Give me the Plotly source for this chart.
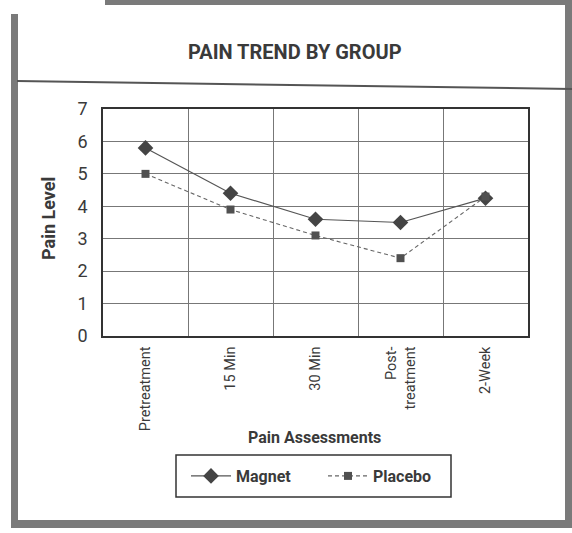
import plotly.graph_objects as go

categories = ["Pretreatment", "15 Min", "30 Min", "Post-<br>treatment", "2-Week"]
magnet = [5.8, 4.4, 3.6, 3.5, 4.25]
placebo = [5.0, 3.9, 3.1, 2.4, 4.3]
y_ticks = [0, 1, 2, 3, 4, 5, 6, 7]

W, H = 572, 533
L, R, T, B = 103, 528, 109, 336

def px(x):
    return (x - L) / (R - L)

def py(y):
    return (B - y) / (B - T)

FONT = "Roboto, Liberation Sans, sans-serif"
INK = "#3a3a3a"
FRAME = "#7a7a7a"

fig = go.Figure()
fig.add_trace(go.Scatter(
    x=categories, y=magnet, name="Magnet", mode="lines+markers",
    line=dict(color="#555555", width=1.2),
    marker=dict(symbol="diamond", size=12, color="#444444"),
))
fig.add_trace(go.Scatter(
    x=categories, y=placebo, name="Placebo", mode="lines+markers",
    line=dict(color="#666666", width=1.1, dash="4px,3px"),
    marker=dict(symbol="square", size=8, color="#505050"),
))

shapes = []
def rect(x0, y0, x1, y1, color=FRAME):
    shapes.append(dict(type="rect", xref="paper", yref="paper",
                       x0=px(x0), x1=px(x1), y0=py(y0), y1=py(y1),
                       line=dict(width=0), fillcolor=color, layer="below"))

# frame bars
rect(11, 14, 18, 528)          # left thick bar
rect(11, 520, 572, 528)        # bottom bar
rect(565, 0, 572, 528)         # right bar
rect(105, 0, 572, 5)           # top bar
shapes.append(dict(type="line", xref="paper", yref="paper",
                   x0=px(17), y0=py(81), x1=px(572), y1=py(89),
                   line=dict(color="#555555", width=2)))
# legend box
shapes.append(dict(type="rect", xref="paper", yref="paper",
                   x0=px(176), x1=px(451), y0=py(455), y1=py(497),
                   line=dict(color="#333333", width=1.5), fillcolor="rgba(0,0,0,0)"))

annotations = [
    dict(text="<b>PAIN TREND BY GROUP</b>", xref="paper", yref="paper",
         x=px(295), y=py(52), xanchor="center", yanchor="middle", showarrow=False,
         font=dict(family=FONT, size=20, color=INK)),
    dict(text="<b>Pain Level</b>", xref="paper", yref="paper",
         x=px(48), y=py(218), xanchor="center", yanchor="middle", showarrow=False,
         textangle=-90, font=dict(family=FONT, size=18, color=INK)),
    dict(text="<b>Pain Assessments</b>", xref="paper", yref="paper",
         x=px(314), y=py(437), xanchor="center", yanchor="middle", showarrow=False,
         font=dict(family=FONT, size=16, color=INK)),
    dict(text="F I G U R E", xref="paper", yref="paper",
         x=px(14), y=py(5), xanchor="left", yanchor="bottom", showarrow=False,
         font=dict(family=FONT, size=16, color="#666666")),
]

fig.update_layout(
    width=W, height=H,
    margin=dict(l=L, r=W - R, t=T, b=H - B),
    paper_bgcolor="white", plot_bgcolor="white",
    font=dict(family=FONT, size=15, color=INK),
    shapes=shapes, annotations=annotations,
    showlegend=True,
    legend=dict(
        orientation="h", x=px(186), y=py(476), xanchor="left", yanchor="middle",
        borderwidth=0, bgcolor="rgba(0,0,0,0)",
        font=dict(family=FONT, size=16, color=INK, weight="bold"),
        entrywidth=82, itemwidth=40,
    ),
    xaxis=dict(
        type="category", tickson="boundaries", showgrid=True,
        gridcolor="#777777", gridwidth=1,
        showline=True, mirror=True, linecolor="#333333", linewidth=1.5,
        ticks="", tickangle=-90, ticklabelstandoff=3,
        tickfont=dict(family=FONT, size=14.5, color=INK),
        range=[-0.5, 4.5],
    ),
    yaxis=dict(
        range=[0, 7], tickvals=y_ticks, showgrid=True,
        gridcolor="#777777", gridwidth=1,
        showline=True, mirror=True, linecolor="#333333", linewidth=1.5,
        ticks="", ticklabelstandoff=10,
        tickfont=dict(family=FONT, size=18, color=INK),
        zeroline=False,
    ),
)

fig.write_html("out.html", config={"displayModeBar": False},
               post_script="document.body.style.margin='0';")
